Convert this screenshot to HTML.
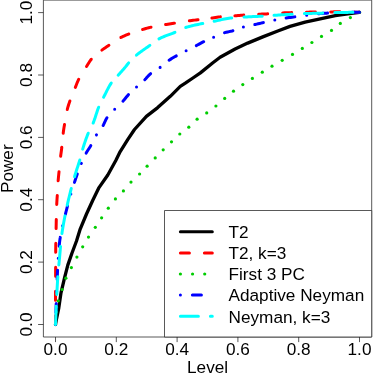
<!DOCTYPE html>
<html><head><meta charset="utf-8"><title>ROC</title>
<style>html,body{margin:0;padding:0;background:#fff;width:374px;height:374px;overflow:hidden;font-family:"Liberation Sans",sans-serif}</style>
</head><body>
<svg width="374" height="374" viewBox="0 0 374 374" style="position:absolute;left:0;top:0;will-change:transform">
<rect x="0" y="0" width="374" height="374" fill="#fff"/>
<g fill="none" stroke-width="3" stroke-linecap="round" stroke-linejoin="round">
<path d="M55.50,324.50 L56.30,320.00 L58.80,307.80 L61.00,292.80 L64.60,277.70 L67.80,265.10 L72.00,253.00 L76.50,241.00 L80.20,229.10 L86.50,214.00 L92.80,200.20 L99.00,187.60 L107.80,175.00 L115.80,160.50 L120.20,151.60 L127.70,139.60 L134.50,129.50 L146.40,116.40 L157.70,107.60 L170.30,96.30 L180.30,86.30 L185.30,83.20 L192.90,78.00 L200.40,72.90 L212.90,62.80 L220.10,57.30 L235.10,49.00 L247.70,43.10 L262.80,36.90 L277.80,31.00 L290.00,26.40 L305.10,22.10 L320.20,18.80 L335.30,15.60 L347.80,13.80 L359.50,12.30" stroke="#000" stroke-width="3.3"/>
<path d="M55.50,324.50 L55.50,323.00 L55.50,321.50 L55.50,319.99 L55.50,318.49 L55.50,316.99 L55.50,315.49 L55.50,315.39 M55.50,300.21 L55.50,298.96 L55.50,297.46 L55.51,295.96 L55.51,294.46 L55.51,292.95 L55.52,291.45 L55.52,291.17 M55.60,276.23 L55.60,274.93 L55.61,273.43 L55.62,271.92 L55.62,270.42 L55.63,268.92 L55.63,267.42 L55.63,267.26 M55.70,252.29 L55.71,250.89 L55.72,249.39 L55.74,247.89 L55.76,246.39 L55.78,244.89 L55.81,243.38 L55.81,243.35 M56.11,228.50 L56.11,228.36 L56.14,226.86 L56.17,225.36 L56.20,223.86 L56.23,222.36 L56.26,220.85 L56.29,219.53 M56.72,204.46 L56.73,204.34 L56.80,202.84 L56.89,201.34 L56.98,199.84 L57.08,198.34 L57.18,196.84 L57.27,195.52 M58.15,180.75 L58.18,180.35 L58.31,178.85 L58.45,177.36 L58.60,175.86 L58.75,174.37 L58.90,172.87 L59.03,171.69 M60.65,156.23 L60.80,154.95 L61.00,153.46 L61.21,151.97 L61.41,150.48 L61.61,148.99 L61.80,147.50 L61.81,147.37 M63.20,133.22 L63.28,132.55 L63.48,131.07 L63.70,129.58 L63.93,128.09 L64.17,126.61 L64.42,125.13 L64.52,124.48 M67.27,109.50 L67.42,108.89 L67.81,107.44 L68.24,106.00 L68.69,104.56 L69.16,103.13 L69.65,101.70 L69.90,100.96 M75.31,87.42 L75.74,86.35 L76.29,84.94 L76.84,83.54 L77.41,82.15 L78.01,80.77 L78.64,79.42 L78.73,79.25 M86.54,66.54 L87.29,65.33 L88.07,64.03 L88.86,62.73 L89.68,61.46 L90.53,60.23 L91.28,59.27 M101.86,50.11 L102.88,49.36 L104.11,48.50 L105.36,47.67 L106.62,46.84 L107.88,46.01 L108.91,45.33 M120.90,37.45 L121.72,37.03 L123.07,36.38 L124.45,35.76 L125.84,35.17 L127.23,34.60 L128.63,34.05 L128.82,33.99 M142.56,29.47 L142.90,29.36 L144.35,28.94 L145.79,28.53 L147.24,28.13 L148.69,27.75 L150.15,27.39 L151.03,27.19 M165.57,24.54 L166.40,24.40 L167.88,24.16 L169.37,23.93 L170.85,23.70 L172.34,23.47 L173.82,23.24 L174.43,23.14 M189.36,20.86 L190.16,20.75 L191.64,20.54 L193.13,20.33 L194.62,20.12 L196.11,19.92 L197.60,19.73 L198.01,19.68 M211.90,18.04 L212.51,17.96 L214.00,17.74 L215.49,17.50 L216.97,17.27 L218.46,17.05 L219.95,16.87 L220.37,16.83 M234.89,15.78 L234.93,15.78 L236.43,15.66 L237.92,15.54 L239.42,15.43 L240.92,15.31 L242.42,15.20 L243.73,15.11 M258.67,14.29 L258.91,14.28 L260.41,14.20 L261.91,14.12 L263.41,14.04 L264.92,13.96 L266.41,13.88 L267.66,13.81 M282.69,12.89 L282.91,12.88 L284.41,12.82 L285.91,12.78 L287.41,12.73 L288.91,12.69 L290.42,12.65 L291.62,12.61 M306.37,12.20 L306.93,12.19 L308.44,12.15 L309.94,12.11 L311.44,12.07 L312.94,12.04 L314.44,12.01 L315.39,12.00 M330.71,11.90 L330.97,11.89 L332.47,11.88 L333.97,11.86 L335.47,11.84 L336.97,11.82 L338.48,11.81 L339.81,11.80 M354.84,12.09 L355.00,12.10 L356.50,12.16 L358.00,12.23 L359.50,12.30" stroke="#ff0000"/>
</g>
<g fill="#00cd00"><circle cx="55.5" cy="324.5" r="1.6"/><circle cx="56.5" cy="312" r="1.6"/><circle cx="58.3" cy="300.8" r="1.6"/><circle cx="62.1" cy="289.5" r="1.6"/><circle cx="65.9" cy="278.2" r="1.6"/><circle cx="71.4" cy="267.6" r="1.6"/><circle cx="76.9" cy="257.1" r="1.6"/><circle cx="82.7" cy="246.8" r="1.6"/><circle cx="88.5" cy="237.1" r="1.6"/><circle cx="95.3" cy="227.3" r="1.6"/><circle cx="101.6" cy="217.8" r="1.6"/><circle cx="108.3" cy="208.2" r="1.6"/><circle cx="115.4" cy="198.9" r="1.6"/><circle cx="123.4" cy="190.9" r="1.6"/><circle cx="131" cy="182.1" r="1.6"/><circle cx="139.6" cy="174" r="1.6"/><circle cx="147.1" cy="166.2" r="1.6"/><circle cx="155.2" cy="157.9" r="1.6"/><circle cx="163.2" cy="149.8" r="1.6"/><circle cx="171.5" cy="141.8" r="1.6"/><circle cx="179.8" cy="134" r="1.6"/><circle cx="188.8" cy="127.2" r="1.6"/><circle cx="197.1" cy="119.2" r="1.6"/><circle cx="206.7" cy="112.9" r="1.6"/><circle cx="215.9" cy="106" r="1.6"/><circle cx="224.7" cy="98.4" r="1.6"/><circle cx="233.5" cy="91.2" r="1.6"/><circle cx="242.8" cy="84.6" r="1.6"/><circle cx="252.4" cy="78.4" r="1.6"/><circle cx="262.3" cy="72.2" r="1.6"/><circle cx="272" cy="66.2" r="1.6"/><circle cx="282.2" cy="60.3" r="1.6"/><circle cx="292.5" cy="54.4" r="1.6"/><circle cx="302.3" cy="48.4" r="1.6"/><circle cx="311.9" cy="42.5" r="1.6"/><circle cx="321.5" cy="36.4" r="1.6"/><circle cx="331.5" cy="30.4" r="1.6"/><circle cx="340.3" cy="23.4" r="1.6"/><circle cx="350.4" cy="17.6" r="1.6"/><circle cx="359.5" cy="12.3" r="1.6"/></g>
<g fill="none" stroke-width="3" stroke-linecap="round" stroke-linejoin="round">
<path d="M55.50,324.50 L55.50,324.49 M55.90,312.45 L55.95,310.97 L56.00,309.47 L56.06,307.97 L56.11,306.46 L56.16,304.96 L56.22,303.46 L56.22,303.42 M56.66,291.38 L56.66,291.37 M57.15,279.33 L57.21,277.91 L57.28,276.41 L57.36,274.91 L57.43,273.41 L57.50,271.90 L57.58,270.40 L57.59,270.30 M58.26,258.27 L58.26,258.26 M59.18,246.25 L59.31,244.88 L59.46,243.39 L59.62,241.91 L59.80,240.42 L60.00,238.94 L60.23,237.46 L60.24,237.37 M62.56,225.80 L62.56,225.79 M65.39,214.35 L65.50,213.93 L65.86,212.47 L66.22,211.01 L66.58,209.55 L66.95,208.10 L67.32,206.64 L67.58,205.64 M70.86,193.94 L70.86,193.93 M74.47,182.34 L74.54,182.11 L75.01,180.68 L75.48,179.25 L75.96,177.83 L76.44,176.40 L76.94,174.98 L77.29,173.99 M81.34,163.38 L81.35,163.37 M86.17,153.09 L86.31,152.84 L87.07,151.55 L87.87,150.27 L88.69,149.01 L89.51,147.74 L90.31,146.47 L90.81,145.61 M96.45,134.89 L96.46,134.88 M103.12,125.42 L103.54,124.66 L104.20,123.30 L104.84,121.91 L105.47,120.53 L106.14,119.18 L106.86,117.88 L106.98,117.71 M114.67,109.32 L114.68,109.32 M122.95,101.14 L123.49,100.55 L124.46,99.41 L125.42,98.24 L126.37,97.07 L127.34,95.92 L128.33,94.79 L128.48,94.63 M136.51,86.92 L136.51,86.91 M144.78,79.72 L144.95,79.56 L145.98,78.46 L146.99,77.32 L147.99,76.19 L149.03,75.10 L150.11,74.09 L150.61,73.70 M160.09,67.38 L160.10,67.38 L160.10,67.37 M169.07,60.26 L169.54,59.93 L170.80,59.12 L172.08,58.33 L173.38,57.57 L174.69,56.82 L176.00,56.08 L176.30,55.91 M186.10,50.80 L186.11,50.80 M196.30,45.60 L197.38,45.03 L198.70,44.32 L200.03,43.61 L201.36,42.90 L202.69,42.20 L203.70,41.70 M213.60,37.20 L213.61,37.20 M224.54,32.72 L224.76,32.65 L226.21,32.27 L227.68,31.93 L229.15,31.62 L230.63,31.31 L232.10,30.96 L232.91,30.74 M243.40,27.10 L243.41,27.10 M254.82,24.57 L255.22,24.48 L256.69,24.15 L258.16,23.82 L259.62,23.48 L261.09,23.15 L262.56,22.81 L263.38,22.63 M274.80,20.10 L274.81,20.10 M286.12,17.99 L286.12,17.99 L287.61,17.78 L289.10,17.59 L290.60,17.40 L292.09,17.22 L293.58,17.03 L294.84,16.87 M306.68,15.22 L306.69,15.22 M318.54,13.79 L318.94,13.75 L320.44,13.60 L321.93,13.46 L323.43,13.34 L324.93,13.24 L326.43,13.14 L327.57,13.06 M339.74,12.51 L339.75,12.51 M351.93,12.34 L351.98,12.34 L353.48,12.32 L354.99,12.31 L356.49,12.31 L358.00,12.30 L359.50,12.30" stroke="#0000ff"/>
<path d="M55.50,324.50 L55.56,323.00 L55.61,321.50 L55.67,320.00 L55.73,318.49 L55.79,316.99 L55.85,315.49 L55.92,313.99 L55.98,312.49 L56.05,310.99 L56.11,309.49 L56.18,307.99 L56.25,306.49 L56.26,306.17 M56.81,294.39 L56.88,292.98 L56.95,291.48 L57.03,289.98 L57.11,288.48 L57.19,286.98 L57.28,285.48 L57.37,283.98 L57.46,282.48 L57.55,280.98 L57.65,279.48 L57.75,277.98 L57.84,276.73 M58.86,264.99 L58.90,264.51 L59.04,263.01 L59.18,261.52 L59.32,260.02 L59.46,258.53 L59.60,257.03 L59.73,255.53 L59.86,254.04 L59.99,252.54 L60.12,251.04 L60.25,249.54 L60.38,248.04 L60.51,246.55 L60.52,246.45 M61.93,233.51 L61.98,233.12 L62.19,231.63 L62.42,230.14 L62.66,228.66 L62.90,227.18 L63.16,225.69 L63.42,224.21 L63.69,222.73 L63.96,221.25 L64.24,219.78 L64.52,218.30 L64.81,216.82 L64.99,215.87 M67.21,205.24 L67.25,205.06 L67.59,203.59 L67.92,202.13 L68.27,200.67 L68.61,199.20 L68.96,197.74 L69.32,196.28 L69.68,194.82 L70.04,193.36 L70.40,191.91 L70.77,190.45 L71.14,189.00 L71.29,188.45 M74.55,176.71 L74.77,175.97 L75.19,174.53 L75.63,173.09 L76.07,171.66 L76.54,170.23 L77.00,168.80 L77.47,167.37 L77.94,165.94 L78.41,164.51 L78.87,163.08 L79.31,161.65 L79.74,160.21 L79.80,159.99 M82.68,149.17 L82.85,148.60 L83.29,147.16 L83.74,145.73 L84.20,144.30 L84.67,142.87 L85.15,141.44 L85.65,140.02 L86.16,138.60 L86.68,137.19 L87.21,135.79 L87.76,134.39 L88.23,133.24 M93.14,123.06 L93.51,122.17 L94.05,120.77 L94.56,119.36 L95.04,117.93 L95.51,116.50 L95.97,115.06 L96.43,113.63 L96.89,112.19 L97.36,110.76 L97.86,109.34 L98.38,107.94 L98.67,107.21 M103.58,97.28 L103.65,97.15 L104.35,95.82 L105.03,94.48 L105.71,93.12 L106.38,91.77 L107.06,90.41 L107.74,89.06 L108.45,87.72 L109.17,86.40 L109.92,85.11 L110.70,83.84 L111.24,83.04 M118.15,75.17 L118.52,74.77 L119.52,73.65 L120.53,72.54 L121.54,71.43 L122.55,70.31 L123.55,69.19 L124.53,68.05 L125.49,66.90 L126.42,65.72 L127.34,64.52 L128.27,63.35 L128.64,62.93 M136.44,55.18 L136.79,54.89 L137.94,53.94 L139.12,53.02 L140.32,52.11 L141.53,51.22 L142.75,50.35 L143.99,49.48 L145.23,48.62 L146.46,47.76 L147.70,46.90 L148.93,46.03 L149.87,45.37 M158.96,38.88 L160.00,38.33 L161.34,37.69 L162.70,37.08 L164.09,36.51 L165.49,35.96 L166.90,35.43 L168.32,34.90 L169.75,34.38 L171.17,33.85 L172.58,33.31 L173.98,32.75 L174.93,32.36 M185.71,27.47 L186.32,27.28 L187.75,26.85 L189.19,26.45 L190.64,26.08 L192.10,25.72 L193.57,25.38 L195.04,25.05 L196.52,24.73 L198.00,24.42 L199.48,24.11 L200.96,23.81 L202.43,23.50 L202.77,23.43 M214.12,21.23 L214.23,21.21 L215.70,20.92 L217.18,20.60 L218.65,20.27 L220.12,19.94 L221.59,19.61 L223.06,19.29 L224.53,18.98 L226.01,18.70 L227.48,18.45 L228.96,18.23 L230.45,18.06 L231.74,17.94 M244.08,17.09 L245.44,17.01 L246.94,16.92 L248.44,16.84 L249.94,16.77 L251.44,16.69 L252.94,16.62 L254.44,16.55 L255.94,16.47 L257.44,16.40 L258.94,16.32 L260.44,16.24 L261.94,16.15 L262.22,16.13 M274.03,15.30 L275.43,15.22 L276.93,15.13 L278.43,15.04 L279.93,14.95 L281.43,14.86 L282.93,14.78 L284.43,14.70 L285.93,14.62 L287.43,14.53 L288.93,14.45 L290.43,14.37 L291.93,14.29 L292.12,14.28 M304.42,13.61 L305.43,13.57 L306.93,13.52 L308.44,13.48 L309.94,13.43 L311.44,13.40 L312.94,13.36 L314.44,13.33 L315.95,13.29 L317.45,13.25 L318.95,13.21 L320.45,13.17 L321.95,13.13 L322.70,13.10 M334.77,12.58 L335.46,12.57 L336.96,12.54 L338.47,12.51 L339.97,12.49 L341.47,12.46 L342.97,12.44 L344.47,12.42 L345.98,12.40 L347.48,12.38 L348.98,12.36 L350.48,12.34 L351.99,12.33 L352.88,12.32" stroke="#00ffff"/>
</g>
<g stroke="#222" stroke-width="0.75" stroke-linejoin="round" fill="none">
<rect x="43.4" y="0.1" width="328.3" height="336.9"/>
<line x1="55.5" y1="337.0" x2="55.5" y2="342.1"/>
<line x1="43.4" y1="324.5" x2="38.1" y2="324.5"/>
<line x1="116.3" y1="337.0" x2="116.3" y2="342.1"/>
<line x1="43.4" y1="262.1" x2="38.1" y2="262.1"/>
<line x1="177.1" y1="337.0" x2="177.1" y2="342.1"/>
<line x1="43.4" y1="199.7" x2="38.1" y2="199.7"/>
<line x1="237.9" y1="337.0" x2="237.9" y2="342.1"/>
<line x1="43.4" y1="137.4" x2="38.1" y2="137.4"/>
<line x1="298.7" y1="337.0" x2="298.7" y2="342.1"/>
<line x1="43.4" y1="75.0" x2="38.1" y2="75.0"/>
<line x1="359.5" y1="337.0" x2="359.5" y2="342.1"/>
<line x1="43.4" y1="12.6" x2="38.1" y2="12.6"/>
</g>
<rect x="164.5" y="210.5" width="207.2" height="126.5" fill="#fff" stroke="#222" stroke-width="0.75" stroke-linejoin="round"/>
<g fill="none" stroke-width="3" stroke-linecap="round">
<line x1="180.4" y1="231.8" x2="212.3" y2="231.8" stroke="#000"/>
<line x1="180.4" y1="252.9" x2="212.3" y2="252.9" stroke="#f00" stroke-dasharray="9 15"/>
<line x1="180.4" y1="295.1" x2="212.3" y2="295.1" stroke="#00f" stroke-dasharray="0 12 9 12"/>
<line x1="180.4" y1="316.2" x2="212.3" y2="316.2" stroke="#0ff" stroke-dasharray="18 12"/>
</g>
<g fill="#00cd00"><circle cx="180.4" cy="274.0" r="1.6"/><circle cx="192.55" cy="274.0" r="1.6"/><circle cx="204.70000000000002" cy="274.0" r="1.6"/></g>
<g font-family="Liberation Sans, sans-serif" font-size="17.2" fill="#000">
<text transform="translate(228.5,238.10000000000002) scale(1,0.985)">T2</text>
<text transform="translate(228.5,259.2) scale(1,0.985)">T2, k=3</text>
<text transform="translate(228.5,280.3) scale(1,0.985)">First 3 PC</text>
<text transform="translate(228.5,301.40000000000003) scale(1,0.985)">Adaptive Neyman</text>
<text transform="translate(228.5,322.5) scale(1,0.985)">Neyman, k=3</text>
<text transform="translate(55.5,355.2) scale(1,1.0)" text-anchor="middle">0.0</text>
<text transform="translate(32.1,324.5) rotate(-90) scale(1,1.0)" text-anchor="middle">0.0</text>
<text transform="translate(116.3,355.2) scale(1,1.0)" text-anchor="middle">0.2</text>
<text transform="translate(32.1,262.1) rotate(-90) scale(1,1.0)" text-anchor="middle">0.2</text>
<text transform="translate(177.1,355.2) scale(1,1.0)" text-anchor="middle">0.4</text>
<text transform="translate(32.1,199.7) rotate(-90) scale(1,1.0)" text-anchor="middle">0.4</text>
<text transform="translate(237.9,355.2) scale(1,1.0)" text-anchor="middle">0.6</text>
<text transform="translate(32.1,137.4) rotate(-90) scale(1,1.0)" text-anchor="middle">0.6</text>
<text transform="translate(298.7,355.2) scale(1,1.0)" text-anchor="middle">0.8</text>
<text transform="translate(32.1,75.0) rotate(-90) scale(1,1.0)" text-anchor="middle">0.8</text>
<text transform="translate(359.5,355.2) scale(1,1.0)" text-anchor="middle">1.0</text>
<text transform="translate(32.1,12.6) rotate(-90) scale(1,1.0)" text-anchor="middle">1.0</text>
<text transform="translate(207.6,373.2) scale(1,0.985)" text-anchor="middle">Level</text>
<text transform="translate(12.5,168.7) rotate(-90) scale(1,0.985)" text-anchor="middle">Power</text>
</g>
</svg>
</body></html>
